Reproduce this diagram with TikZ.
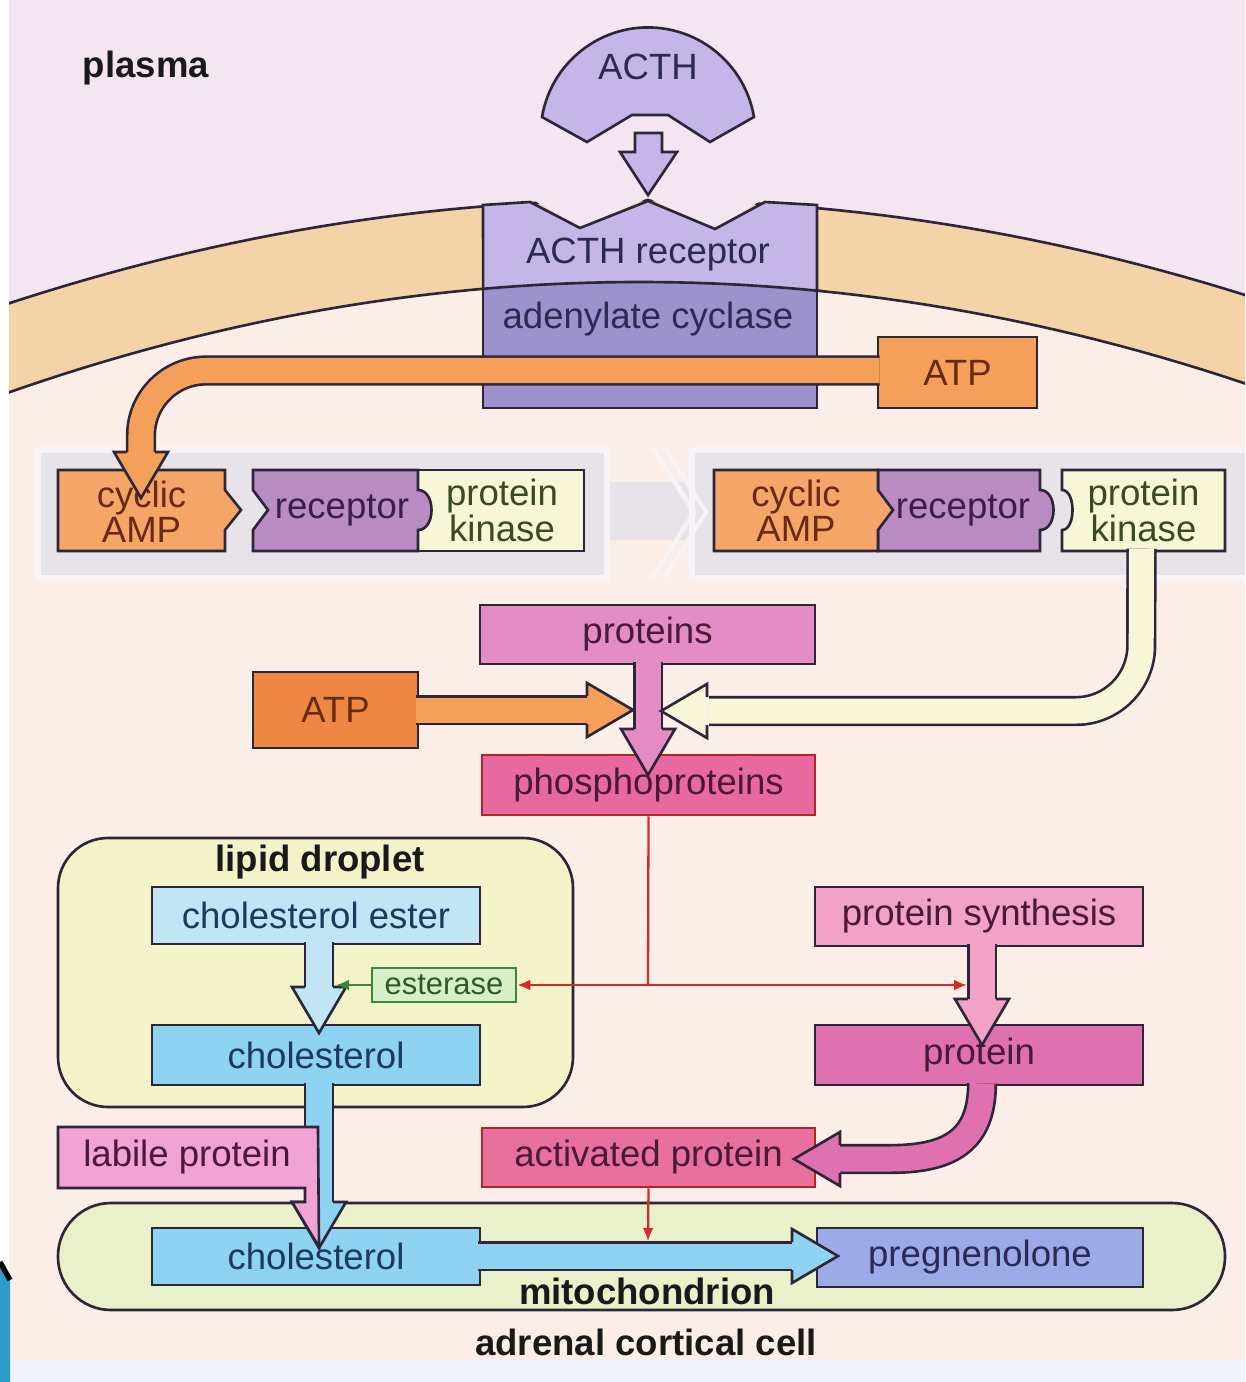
\documentclass[tikz,border=0pt]{standalone}
\usepackage{fontspec}
\setmainfont{Liberation Sans}
\usetikzlibrary{arrows.meta,calc}

\definecolor{plasmabg}{HTML}{F4E6F1}
\definecolor{cellbg}{HTML}{FBEEE8}
\definecolor{membr}{HTML}{F4D3A9}
\definecolor{edgec}{HTML}{2C2638}
\definecolor{acthc}{HTML}{C5B6EA}
\definecolor{cyclc}{HTML}{9C92CC}
\definecolor{navyt}{HTML}{2A2A55}
\definecolor{orng}{HTML}{F5A05A}
\definecolor{orngdk}{HTML}{EE8744}
\definecolor{ampc}{HTML}{F3A668}
\definecolor{brownt}{HTML}{6A2A12}
\definecolor{recc}{HTML}{B98CC4}
\definecolor{purpt}{HTML}{3A1E4A}
\definecolor{kinc}{HTML}{F7F6D8}
\definecolor{olivet}{HTML}{3C4A22}
\definecolor{panelc}{HTML}{E8E3E9}
\definecolor{protc}{HTML}{E38CC5}
\definecolor{phosc}{HTML}{E8699F}
\definecolor{redln}{HTML}{D42A2A}
\definecolor{pinkt}{HTML}{4A1838}
\definecolor{dropc}{HTML}{F4F2C9}
\definecolor{esterc}{HTML}{C2E5F6}
\definecolor{cholc}{HTML}{8FD3F2}
\definecolor{bluet}{HTML}{1C3A5C}
\definecolor{estc}{HTML}{D6EFC8}
\definecolor{greenln}{HTML}{3A863A}
\definecolor{greent}{HTML}{2E5A2A}
\definecolor{sync}{HTML}{F2A2C4}
\definecolor{protdk}{HTML}{E071B1}
\definecolor{actc}{HTML}{E8709C}
\definecolor{labc}{HTML}{F2A3D6}
\definecolor{mitoc}{HTML}{E9F0CA}
\definecolor{pregc}{HTML}{9DAAE8}
\definecolor{cornerc}{HTML}{2E9CC8}

\newcommand{\lbl}{\fontsize{10.4pt}{10pt}\selectfont}
% head of a fat arrow: tip, direction, fill
\newcommand{\fathead}[3]{%
  \begin{scope}[shift={(#1)}, rotate=#2]
    \fill[#3] (-46,-27) -- (0,0) -- (-46,27) -- cycle;
    \draw[edgec, line width=0.75pt, line join=miter] (-46,-14) -- (-46,-27) -- (0,0) -- (-46,27) -- (-46,14);
  \end{scope}}

\begin{document}
\begin{tikzpicture}[x=0.01cm, y=-0.01cm,
    >={Latex[length=0.13cm,width=0.11cm]},
    ln/.style={draw=edgec, line width=0.75pt},
    box/.style={ln, inner sep=0pt, font=\lbl, align=center},
    txt/.style={inner sep=0pt, font=\lbl, align=center},
    title/.style={inner sep=0pt, font=\lbl\bfseries, text=black!90},
    shaft/.style={ln, double=#1, double distance=0.25cm},
    redarr/.style={draw=redln, line width=0.65pt},
    greenarr/.style={draw=greenln, line width=0.65pt, ->}]
  \useasboundingbox (0,0) rectangle (1245,1382);
  \clip (0,0) rectangle (1245,1382);

  % cell, plasma and membrane
  \fill[cellbg] (0,0) rectangle (1245,1382);
  \fill[plasmabg] (0,0) -- (1245,0) -- plot[variable=\t, domain=1:-1.02, samples=60] ({640+630*\t},{200+103*\t*\t}) -- cycle;
  \fill[membr] plot[variable=\t, domain=-1.02:1, samples=60] ({640+630*\t},{200+103*\t*\t})
    -- plot[variable=\t, domain=1:-1.02, samples=60] ({640+630*\t},{282+110*\t*\t}) -- cycle;
  \draw[ln] plot[variable=\t, domain=-1.02:1, samples=60] ({640+630*\t},{200+103*\t*\t});
  \draw[ln] plot[variable=\t, domain=-1.02:1, samples=60] ({640+630*\t},{282+110*\t*\t});

  % ACTH and its receptor
  \filldraw[fill=acthc, ln] (542,117) arc[start angle=189.6, end angle=350.4, radius=107.5]
    -- (710,142) -- (668,115) -- (632,115) -- (587,142) -- cycle;
  \node[txt, text=navyt] (acth) at (648,67) {ACTH};
  \filldraw[fill=acthc, ln] (635,133) -- (662,133) -- (662,152) -- (677,152) -- (648,195)
    -- (620,152) -- (635,152) -- cycle;
  \fill[plasmabg] (530,198) -- (580,228) -- (648,198) -- (715,229) -- (765,198) -- cycle;
  \fill[cyclc] (483,282) rectangle (817,408);
  \draw[ln] (483,282) -- (483,408) -- (817,408) -- (817,282);
  \filldraw[fill=acthc, ln] (483,205) -- (530,202) -- (580,228) -- (648,201) -- (715,229) -- (765,202)
    -- (817,205) -- (817,290.7) -- plot[variable=\t, domain=0.281:-0.249, samples=20] ({640+630*\t},{282+110*\t*\t}) -- cycle;
  \node[txt, text=navyt] (acthr) at (648,255) {ACTH receptor};
  \node[txt, text=navyt] (cycl) at (648,319) {adenylate cyclase};

  % the two states of protein kinase
  \fill[panelc] (38,450) rectangle (607,578);
  \fill[panelc] (600,482) rectangle (700,540);
  \fill[panelc] (692,450) rectangle (1245,578);
  \draw[white!60!panelc, line width=1.5pt] (38,450) rectangle (607,578);
  \draw[white!60!panelc, line width=1.5pt] (692,450) rectangle (1250,578);
  \draw[white!60!panelc, line width=1.2pt] (652,447) -- (694,512) -- (652,578);
  \draw[white!60!panelc, line width=1.2pt] (664,447) -- (706,512) -- (664,578);

  \filldraw[fill=kinc, ln] (418,470) rectangle (584,551);
  \filldraw[fill=recc, ln] (253,470) -- (418,470) -- (418,490) .. controls (436,490) and (436,530) .. (418,530)
    -- (418,551) -- (253,551) -- (253,530) -- (268,510) -- (253,490) -- cycle;
  \filldraw[fill=ampc, ln] (58,470) -- (225,470) -- (225,490) -- (241,510) -- (225,530) -- (225,551) -- (58,551) -- cycle;
  \node[txt, text=brownt, minimum width=1.67cm, minimum height=0.81cm] (ampa) at (141.5,512) {cyclic\\AMP};
  \node[txt, text=purpt] (reca) at (342,510) {receptor};
  \node[txt, text=olivet, minimum width=1.66cm, minimum height=0.81cm] (pka) at (502,510.5) {protein\\kinase};

  \filldraw[fill=recc, ln] (878,470) -- (1040,470) -- (1040,490) .. controls (1058,490) and (1058,530) .. (1040,530)
    -- (1040,551) -- (878,551) -- cycle;
  \filldraw[fill=ampc, ln] (714,470) -- (878,470) -- (878,490) -- (893,510) -- (878,530) -- (878,551) -- (714,551) -- cycle;
  \filldraw[fill=kinc, ln] (1062,470) -- (1225,470) -- (1225,551) -- (1062,551) -- (1062,530)
    .. controls (1076,530) and (1076,490) .. (1062,490) -- cycle;
  \node[txt, text=brownt, minimum width=1.64cm, minimum height=0.81cm] (ampb) at (796,510.5) {cyclic\\AMP};
  \node[txt, text=purpt] (recb) at (963,510) {receptor};
  \node[txt, text=olivet, minimum width=1.63cm, minimum height=0.81cm] (pkb) at (1143.5,510.5) {protein\\kinase};

  % boxes
  \node[box, fill=orng, text=brownt, minimum width=1.59cm, minimum height=0.71cm] (atpa) at (957.5,372.5) {ATP};
  \node[box, fill=protc, text=pinkt, minimum width=3.35cm, minimum height=0.59cm] (prots) at (647.5,634.5) {proteins};
  \node[box, fill=orngdk, text=brownt, minimum width=1.65cm, minimum height=0.76cm] (atpb) at (335.5,710) {ATP};
  \node[box, fill=phosc, draw=redln!85!black, text=pinkt, minimum width=3.33cm, minimum height=0.60cm] (phos) at (648.5,785) {phosphoproteins};

  \filldraw[fill=dropc, ln, rounded corners=0.5cm] (58,838) rectangle (573,1107);
  \node[title] (droplet) at (320,862) {lipid droplet};
  \node[box, fill=esterc, text=bluet, minimum width=3.28cm, minimum height=0.57cm] (chest) at (316,915.5) {cholesterol ester};
  \node[box, fill=cholc, text=bluet, minimum width=3.28cm, minimum height=0.60cm] (chola) at (316,1055) {cholesterol};
  \node[box, fill=estc, draw=greenln, text=greent, font=\fontsize{8.8pt}{10pt}\selectfont,
    minimum width=1.44cm, minimum height=0.34cm] (ester) at (444,985) {esterase};

  \node[box, fill=sync, text=pinkt, minimum width=3.28cm, minimum height=0.59cm] (psyn) at (979,916.5) {protein synthesis};
  \node[box, fill=protdk, text=pinkt, minimum width=3.28cm, minimum height=0.60cm] (prot) at (979,1055) {protein};
  \node[box, fill=actc, draw=redln!85!black, text=pinkt, minimum width=3.33cm, minimum height=0.59cm] (act) at (648.5,1157.5) {activated protein};

  \filldraw[fill=mitoc, ln, rounded corners=0.53cm] (58,1203) rectangle (1225,1310);
  \node[box, fill=cholc, text=bluet, minimum width=3.28cm, minimum height=0.57cm] (cholb) at (316,1256.5) {cholesterol};
  \node[box, fill=pregc, text=navyt, minimum width=3.26cm, minimum height=0.59cm] (preg) at (980,1257.5) {pregnenolone};

  % fat arrows
  \coordinate (ampTip) at (141,498);
  \coordinate (pkTip) at (661,711);
  \coordinate (atpTip) at (633,710);
  \coordinate (phosTip) at (648,775);
  \coordinate (cholaTip) at (319,1033);
  \coordinate (cholbTip) at (319,1248);
  \coordinate (protTip) at (982,1045);
  \coordinate (actTip) at (794,1159);
  \coordinate (pregTip) at (838,1256);

  \draw[shaft=orng, rounded corners=0.65cm] ($(atpa.west)+(3,-2)$) -- (141,370.5) -- (141,454);
  \draw[shaft=kinc, rounded corners=0.65cm] ($(pkb.south)+(-2,-3)$) -- (1141,711) -- (709,711);
  \draw[shaft=orng] ($(atpb.east)+(-3,0)$) -- (589,710);
  \draw[shaft=protc] ($(prots.south)+(0.5,-3)$) -- (648,731);
  \draw[shaft=esterc] ($(chest.south)+(3,-3)$) -- (319,989);
  \draw[shaft=cholc] ($(chola.south)+(3,-3)$) -- (319,1204);
  \draw[shaft=sync] ($(psyn.south)+(3,-3)$) -- (982,1001);
  \draw[shaft=protdk] ($(prot.south)+(3,-3)$) .. controls (982,1142) and (948,1159) .. (890,1159) -- (838,1159);
  \draw[shaft=cholc] ($(cholb.east)+(-3,-0.5)$) -- (794,1256);

  \fathead{ampTip}{-90}{orng}
  \fathead{pkTip}{180}{kinc}
  \fathead{atpTip}{0}{orng}
  \fathead{phosTip}{-90}{protc}
  \fathead{cholaTip}{-90}{esterc}
  \fathead{cholbTip}{-90}{cholc}
  \fathead{protTip}{-90}{sync}
  \fathead{actTip}{180}{protdk}
  \fathead{pregTip}{0}{cholc}

  % labile protein rides on the cholesterol arrow
  \filldraw[fill=labc, ln, line join=miter] (58,1127) -- (318,1127) -- (319,1247) -- (292,1202) -- (305,1202)
    -- (305,1188) -- (58,1188) -- cycle;
  \node[txt, text=pinkt] (labile) at (187,1157) {labile protein};

  % signals
  \coordinate (redJ) at (648,985);
  \coordinate (psynHit) at (967,985);
  \coordinate (mitoHit) at (648,1241);
  \coordinate (esterHit) at (336,985);
  \draw[redarr] (phos.south) -- (redJ);
  \draw[redarr, ->] (redJ) -- (ester.east);
  \draw[redarr, ->] (redJ) -- (psynHit);
  \draw[redarr, ->] (act.south) -- (mitoHit);
  \draw[greenarr] (ester.west) -- (esterHit);

  % labels
  \node[title] (plasma) at (146,68) {plasma};
  \node[title] (mito) at (647,1291) {mitochondrion};
  \node[title] (cell) at (646,1342) {adrenal cortical cell};

  % page edges
  \fill[white] (0,0) rectangle (9,1382);
  \fill[white!95!blue] (0,1360) rectangle (1245,1382);
  \fill[cornerc] (0,1262) -- (10,1280) -- (10,1382) -- (0,1382) -- cycle;
  \draw[black, line width=1.5pt] (0,1262) -- (10,1280);
\end{tikzpicture}
\end{document}
